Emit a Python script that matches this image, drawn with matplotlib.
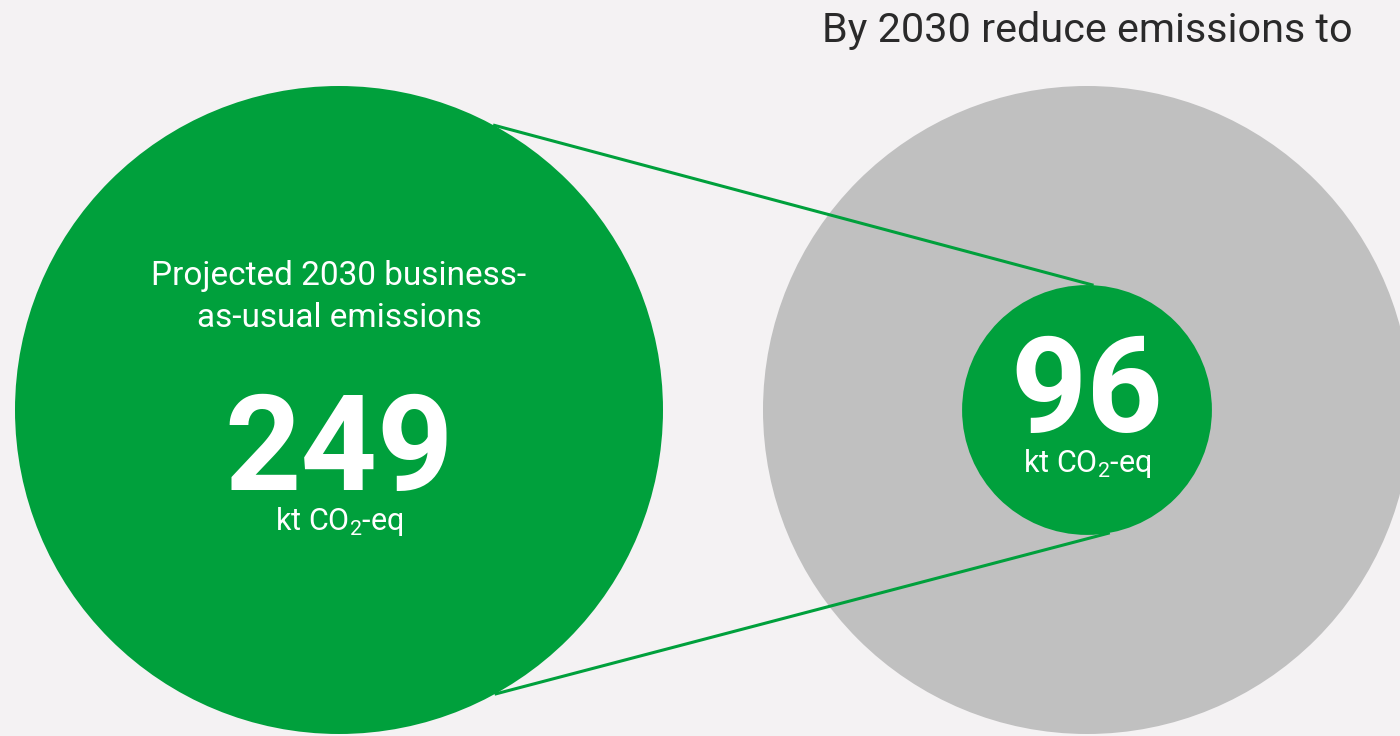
import matplotlib.pyplot as plt
from matplotlib.patches import Circle
import numpy as np

plt.rcParams['font.family'] = ['Roboto', 'DejaVu Sans']
plt.rcParams['mathtext.fontset'] = 'custom'
plt.rcParams['mathtext.rm'] = 'Roboto'

# data
bau_value = 249      # projected 2030 business-as-usual, kt CO2-eq
target_value = 96    # 2030 target, kt CO2-eq
bau_label = 'Projected 2030 business-\nas-usual emissions'
title_text = 'By 2030 reduce emissions to'
unit_label = 'kt CO$_\\mathregular{2}$-eq'

green = '#00a03c'
grey = '#c0c0c0'
bg = '#f4f2f3'

fig = plt.figure(figsize=(14, 7.36), dpi=100, facecolor=bg)
ax = fig.add_axes([0, 0, 1, 1])
ax.set_facecolor(bg)
ax.set_xlim(0, 1400)
ax.set_ylim(736, 0)
ax.set_aspect('equal')
ax.axis('off')

scale = 324 / bau_value   # radius in px per kt
r_big = bau_value * scale
r_small = target_value * scale
c_left = (339, 410)
c_right = (1087, 410)

ax.add_patch(Circle(c_right, r_big, color=grey, lw=0, zorder=1))
ax.add_patch(Circle(c_left, r_big, color=green, lw=0, zorder=2))

# connector lines between the circles
def on_circle(c, r, deg):
    a = np.radians(deg)
    return c[0] + r * np.cos(a), c[1] - r * np.sin(a)

for a1, a2 in [(61.6, 87), (-61.3, -79.5)]:
    p1 = on_circle(c_left, r_big, a1)
    p2 = on_circle(c_right, r_small, a2)
    ax.plot([p1[0], p2[0]], [p1[1], p2[1]], color=green, lw=2.2, zorder=3,
            solid_capstyle='butt')

ax.add_patch(Circle(c_right, r_small, color=green, lw=0, zorder=4))

# texts
ax.text(c_left[0], 297, bau_label, color='white', fontsize=24, ha='center',
        va='center', linespacing=1.4, zorder=5)
ax.text(c_left[0], 490, str(bau_value), color='white', fontsize=96,
        fontweight='bold', ha='center', va='baseline', zorder=5)
ax.text(c_left[0], 521, unit_label, color='white', fontsize=22, ha='center',
        va='center', zorder=5)

ax.text(c_right[0], 432, str(target_value), color='white', fontsize=96,
        fontweight='bold', ha='center', va='baseline', zorder=5)
ax.text(c_right[0], 463, unit_label, color='white', fontsize=22, ha='center',
        va='center', zorder=5)

ax.text(1087, 30, title_text, color='#2a2a2a', fontsize=29.8, ha='center',
        va='center', zorder=5)

fig.savefig('out.png', dpi=100, facecolor=bg)
